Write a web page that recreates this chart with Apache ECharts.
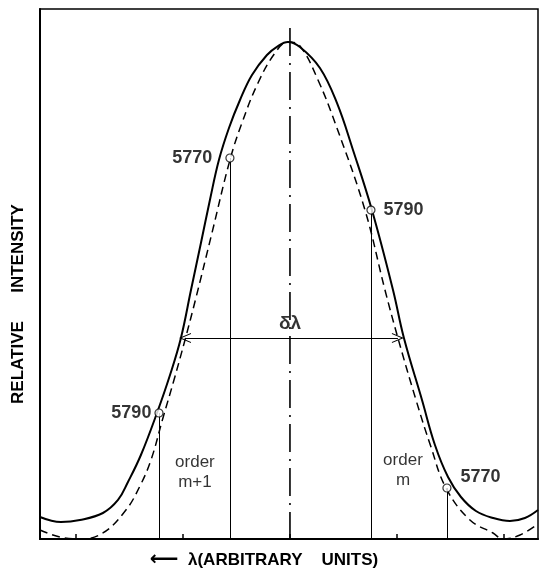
<!DOCTYPE html>
<html lang="en">
<head>
    <meta charset="UTF-8">
    <title>Relative intensity vs wavelength</title>
    <script src="https://cdn.jsdelivr.net/npm/echarts@6/dist/echarts.min.js"></script>
    <style>
        html, body { margin: 0; padding: 0; background: #fff; }
    </style>
</head>
<body>
    <div id="main" style="width:539px;height:571px;"></div>
    <script type="text/javascript">
        // wavelength (arbitrary units, 0 = line centre) and relative intensity (peak = 100)
        var solidX = [-2.336, -2.140, -1.963, -1.748, -1.607, -1.514, -1.393, -1.243, -1.121, -1.019, -0.925, -0.832, -0.748, -0.664, -0.570, -0.467, -0.355, -0.215, -0.112, -0.019,
                      0.093, 0.280, 0.439, 0.589, 0.766, 0.963, 1.065, 1.234, 1.355, 1.477, 1.598, 1.738, 1.897, 2.056, 2.196, 2.318];
        var solidY = [4.43, 3.42, 3.82, 5.23, 7.85, 11.47, 16.90, 25.35, 33.00, 40.44, 50.10, 59.56, 68.21, 76.25, 82.69, 88.33, 93.36, 97.38, 99.19, 100,
                      98.99, 94.77, 87.73, 78.27, 66.19, 50.10, 40.44, 27.97, 18.91, 12.47, 8.45, 5.63, 4.23, 3.62, 4.23, 5.83];

        var dashX = [-2.336, -2.150, -1.963, -1.748, -1.533, -1.402, -1.299, -1.187, -1.084, -0.981, -0.879, -0.729, -0.561, -0.449, -0.299, -0.140, -0.019,
                     0.093, 0.262, 0.439, 0.701, 0.888, 1.009, 1.178, 1.318, 1.458, 1.682, 1.897, 1.991, 2.150, 2.318];
        var dashY = [1.81, 0.40, 0, 1.21, 5.83, 10.66, 15.89, 24.35, 31.99, 40.04, 48.49, 61.57, 76.25, 83.70, 91.75, 97.78, 100,
                     99.19, 92.35, 82.70, 66.19, 50.10, 40.44, 27.97, 18.51, 10.26, 3.82, 1.21, 0, 0.80, 3.02];

        // marked wavelengths on the curves
        var markX = [-0.561, 0.757, -1.224, 1.467];
        var markY = [76.66, 66.19, 25.35, 10.26];
        var markText = ['5770', '5790', '5790', '5770'];

        // order labels
        var orderX = [-0.888, 1.056];
        var orderY = [13.48, 13.88];
        var orderText = ['order\nm+1', 'order\nm'];

        // half width arrow and line centre
        var deltaFrom = -0.981;
        var deltaTo = 1.009;
        var deltaY = 40.44;
        var deltaText = 'δλ';
        var centreX = [0, 0];
        var centreY = [102.8, 0];

        var tickValues = [-2, -1, 0, 1, 2];

        var markLabelPos = [
            {position: 'left', distance: 13},
            {position: 'right', distance: 8},
            {position: 'left', distance: 3},
            {position: 'right', distance: 9, offset: [0, -11]}
        ];

        function zip(xs, ys) {
            var out = [];
            for (var i = 0; i < xs.length; i++) {
                out.push([xs[i], ys[i]]);
            }
            return out;
        }

        var markData = [];
        var dropLines = [];
        for (var i = 0; i < markX.length; i++) {
            markData.push({
                value: [markX[i], markY[i]],
                name: markText[i],
                label: markLabelPos[i]
            });
            dropLines.push([{coord: [markX[i], markY[i]]}, {coord: [markX[i], 0]}]);
        }

        var orderData = [];
        for (var j = 0; j < orderX.length; j++) {
            orderData.push({value: [orderX[j], orderY[j]], name: orderText[j]});
        }

        var chevron = 'path://M0,10 L5,0 L10,10 L8.9,10 L5,2.2 L1.1,10 Z';

        var chart = echarts.init(document.getElementById('main'), null, {renderer: 'canvas'});
        var option = {
            backgroundColor: '#fff',
            animation: false,
            grid: {
                left: 40,
                right: 1,
                top: 9,
                bottom: 32,
                containLabel: false,
                outerBoundsMode: 'none',
                show: true,
                borderColor: '#000',
                borderWidth: 1.5
            },
            xAxis: {
                type: 'value',
                min: -2.336,
                max: 2.318,
                name: '{a|⟵}  λ(ARBITRARY    UNITS)',
                nameLocation: 'middle',
                nameGap: 11,
                nameTextStyle: {
                    color: '#000',
                    fontFamily: 'Liberation Sans',
                    fontSize: 17,
                    fontWeight: 'bold',
                    padding: [0, 50, 0, 0],
                    rich: {
                        a: {fontFamily: 'DejaVu Sans', fontSize: 20, color: '#000'}
                    }
                },
                axisLine: {onZero: false, lineStyle: {color: '#000', width: 2}},
                axisTick: {
                    show: true,
                    inside: true,
                    length: 5,
                    customValues: tickValues,
                    lineStyle: {color: '#000', width: 1.5}
                },
                axisLabel: {show: false},
                splitLine: {show: false}
            },
            yAxis: {
                type: 'value',
                min: 0,
                max: 106.64,
                name: 'RELATIVE      INTENSITY',
                nameLocation: 'middle',
                nameGap: 13,
                nameTextStyle: {
                    color: '#000',
                    fontFamily: 'Liberation Sans',
                    fontSize: 17,
                    fontWeight: 'bold',
                    padding: [0, 60, 0, 0]
                },
                axisLine: {show: true, onZero: false, lineStyle: {color: '#000', width: 2}},
                axisTick: {show: false},
                axisLabel: {show: false},
                splitLine: {show: false}
            },
            series: [
                {
                    name: 'solid',
                    type: 'line',
                    smooth: 0.4,
                    symbol: 'none',
                    lineStyle: {color: '#000', width: 2},
                    data: zip(solidX, solidY),
                    z: 3
                },
                {
                    name: 'dashed',
                    type: 'line',
                    smooth: 0.4,
                    symbol: 'none',
                    lineStyle: {color: '#000', width: 1.5, type: [8, 5]},
                    data: zip(dashX, dashY),
                    z: 3,
                    markLine: {
                        silent: true,
                        symbol: ['none', 'none'],
                        label: {show: false},
                        lineStyle: {color: '#000', width: 1, type: 'solid'},
                        data: dropLines
                    }
                },
                {
                    name: 'centre',
                    type: 'line',
                    symbol: 'none',
                    lineStyle: {color: '#000', width: 1.6, type: [28, 7, 2, 7]},
                    data: zip(centreX, centreY),
                    z: 2
                },
                {
                    name: 'delta',
                    type: 'line',
                    symbol: 'none',
                    data: [],
                    markLine: {
                        silent: true,
                        symbol: [chevron, chevron],
                        symbolSize: [10, 12],
                        lineStyle: {color: '#000', width: 1, type: 'solid'},
                        label: {show: false},
                        data: [[{coord: [deltaFrom, deltaY]}, {coord: [deltaTo, deltaY]}]]
                    }
                },
                {
                    name: 'marks',
                    type: 'scatter',
                    symbol: 'circle',
                    symbolSize: 8,
                    itemStyle: {color: '#fff', borderColor: '#000', borderWidth: 1.2},
                    label: {
                        show: true,
                        formatter: '{b}',
                        color: '#000',
                        fontFamily: 'Liberation Sans',
                        fontSize: 18,
                        fontWeight: 'bold'
                    },
                    data: markData,
                    z: 5
                },
                {
                    name: 'orders',
                    type: 'scatter',
                    symbolSize: 1,
                    itemStyle: {color: 'transparent'},
                    label: {
                        show: true,
                        position: 'inside',
                        formatter: '{b}',
                        color: '#000',
                        fontFamily: 'Liberation Sans',
                        fontSize: 17,
                        lineHeight: 20,
                        align: 'center'
                    },
                    data: orderData
                },
                {
                    name: 'deltaLabel',
                    type: 'scatter',
                    symbolSize: 1,
                    itemStyle: {color: 'transparent'},
                    label: {
                        show: true,
                        position: 'top',
                        distance: 4,
                        formatter: '{b}',
                        color: '#000',
                        fontFamily: 'Liberation Sans',
                        fontSize: 19,
                        fontWeight: 'bold'
                    },
                    data: [{value: [0, deltaY], name: deltaText}]
                }
            ]
        };
        chart.setOption(option);
    </script>
</body>
</html>
